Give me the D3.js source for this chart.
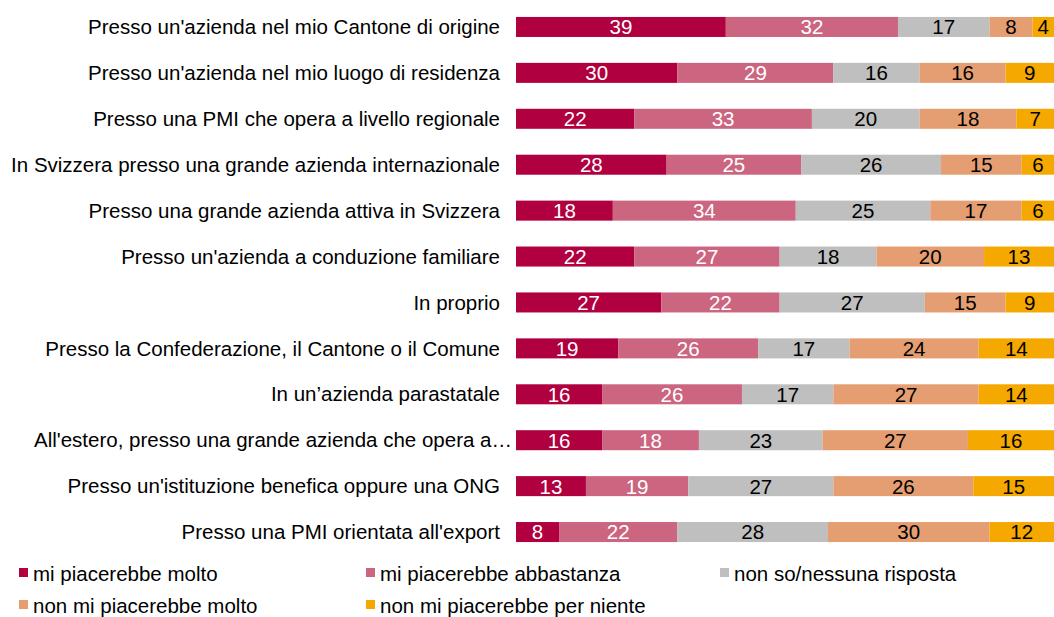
<!DOCTYPE html>
<html>
<head>
<meta charset="utf-8">
<script src="https://cdn.jsdelivr.net/npm/d3@7"></script>
<style>
  body { margin: 0; background: #fff; }
  svg { display: block; font-family: "Liberation Sans", Arial, sans-serif; }
</style>
</head>
<body>
<div id="chart"></div>
<script>
var svgWidth = 1054;
var svgHeight = 617;

// categories (top to bottom)
var categories = [
  "Presso un'azienda nel mio Cantone di origine",
  "Presso un'azienda nel mio luogo di residenza",
  "Presso una PMI che opera a livello regionale",
  "In Svizzera presso una grande azienda internazionale",
  "Presso una grande azienda attiva in Svizzera",
  "Presso un'azienda a conduzione familiare",
  "In proprio",
  "Presso la Confederazione, il Cantone o il Comune",
  "In un\u2019azienda parastatale",
  "All'estero, presso una grande azienda che opera a\u2026",
  "Presso un'istituzione benefica oppure una ONG",
  "Presso una PMI orientata all'export"
];

var seriesNames = [
  "mi piacerebbe molto",
  "mi piacerebbe abbastanza",
  "non so/nessuna risposta",
  "non mi piacerebbe molto",
  "non mi piacerebbe per niente"
];

var colors = ["#b0003f", "#cc6680", "#bfbfbf", "#e59e72", "#f5a800"];
var labelColors = ["#fff", "#fff", "#000", "#000", "#000"];

// values per series, in category order
var molto        = [39, 30, 22, 28, 18, 22, 27, 19, 16, 16, 13, 8];
var abbastanza   = [32, 29, 33, 25, 34, 27, 22, 26, 26, 18, 19, 22];
var nonSo        = [17, 16, 20, 26, 25, 18, 27, 17, 17, 23, 27, 28];
var nonMolto     = [8, 16, 18, 15, 17, 20, 15, 24, 27, 27, 26, 30];
var perNiente    = [4, 9, 7, 6, 6, 13, 9, 14, 14, 16, 15, 12];

var seriesValues = [molto, abbastanza, nonSo, nonMolto, perNiente];

var rows = categories.map(function(c, i) {
  var r = { cat: c };
  seriesNames.forEach(function(s, j) { r[s] = seriesValues[j][i]; });
  return r;
});

var stacked = d3.stack().keys(seriesNames)(rows);

var svg = d3.select("#chart").append("svg")
  .attr("width", svgWidth)
  .attr("height", svgHeight);

var fontSize = 20.5;

var x = d3.scaleLinear().domain([0, 100]).range([516, 1054]);

var y = d3.scaleBand()
  .domain(categories)
  .range([4, 555])
  .paddingInner(0.564)
  .paddingOuter(0.282);

// category labels
svg.append("g").selectAll("text")
  .data(categories)
  .enter()
  .append("text")
  .attr("x", function(d, i) { return i === 9 ? 512 : 500; })
  .attr("y", d => y(d) + y.bandwidth() / 2)
  .attr("dy", "0.35em")
  .attr("text-anchor", "end")
  .attr("font-size", fontSize)
  .attr("fill", "#000")
  .text(d => d);

// bars
var layers = svg.append("g").selectAll("g")
  .data(stacked)
  .enter()
  .append("g")
  .attr("fill", (d, i) => colors[i]);

layers.selectAll("rect")
  .data(d => d)
  .enter()
  .append("rect")
  .attr("x", d => x(d[0]))
  .attr("y", d => y(d.data.cat))
  .attr("width", d => x(d[1]) - x(d[0]))
  .attr("height", y.bandwidth());

// value labels
stacked.forEach(function(layer, i) {
  svg.append("g").selectAll("text")
    .data(layer)
    .enter()
    .append("text")
    .attr("x", d => (x(d[0]) + x(d[1])) / 2)
    .attr("y", d => y(d.data.cat) + y.bandwidth() / 2)
    .attr("dy", "0.36em")
    .attr("text-anchor", "middle")
    .attr("font-size", fontSize)
    .attr("fill", labelColors[i])
    .text(d => d[1] - d[0]);
});

// legend
var legendPos = [[19, 568], [366, 568], [720, 568], [19, 600], [366, 600]];

var legend = svg.append("g").selectAll("g")
  .data(seriesNames)
  .enter()
  .append("g")
  .attr("transform", (d, i) => `translate(${legendPos[i][0]}, ${legendPos[i][1]})`);

legend.append("rect")
  .attr("width", 9)
  .attr("height", 9)
  .attr("fill", (d, i) => colors[i]);

legend.append("text")
  .attr("x", 14)
  .attr("y", 13)
  .attr("font-size", fontSize)
  .attr("fill", "#000")
  .text(d => d);
</script>
</body>
</html>
